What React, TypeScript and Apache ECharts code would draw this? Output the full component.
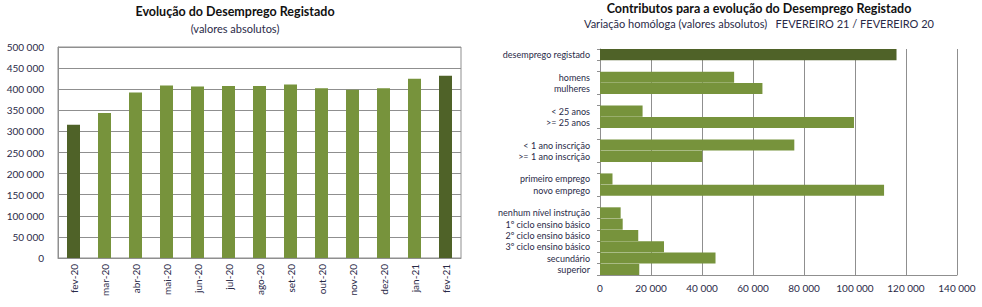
import React, { useEffect, useRef } from "react";
import * as echarts from "echarts";

// Registered unemployment, monthly totals
const months = [
  "fev-20", "mar-20", "abr-20", "mai-20", "jun-20", "jul-20", "ago-20",
  "set-20", "out-20", "nov-20", "dez-20", "jan-21", "fev-21",
];
const unemployed = [
  315562, 343761, 392323, 408934, 406665, 407302, 407779,
  410927, 402254, 398918, 402183, 424770, 431843,
];
const highlightedMonths = ["fev-20", "fev-21"];
const leftTicks = [0, 50000, 100000, 150000, 200000, 250000, 300000, 350000, 400000, 450000, 500000];

// Contributions to the year-on-year change (empty label = spacer row)
const contribLabels = [
  "desemprego registado", "",
  "homens", "mulheres", "",
  "< 25 anos", ">= 25 anos", "",
  "< 1 ano inscrição", ">= 1 ano inscrição", "",
  "primeiro emprego", "novo emprego", "",
  "nenhum nível instrução", "1º ciclo ensino básico", "2º ciclo ensino básico",
  "3º ciclo ensino básico", "secundário", "superior",
];
const contribValues = [
  116281, null,
  52600, 63700, null,
  16700, 99600, null,
  76200, 40100, null,
  4900, 111400, null,
  8100, 8900, 15000, 25100, 45300, 15400,
];
const highlightedContrib = ["desemprego registado"];
const rightTicks = [0, 20000, 40000, 60000, 80000, 100000, 120000, 140000];

const LIGHT = "#77933C";
const DARK = "#4F6228";
const TEXT = "#2a2a48";
const GRID = "#8f8f8f";
const FONT = "Lato, 'Open Sans', sans-serif";

const fmt = (v: number) =>
  String(Math.round(v)).replace(/\B(?=(\d{3})+(?!\d))/g, " ");

export default function App() {
  const ref = useRef<HTMLDivElement>(null);

  useEffect(() => {
    if (!ref.current) return;
    const chart = echarts.init(ref.current, undefined, { renderer: "svg" });

    const categoryKeys = contribLabels.map((l, i) => (l === "" ? " ".repeat(i + 1) : l));

    chart.setOption({
      animation: false,
      backgroundColor: "#ffffff",
      textStyle: { fontFamily: FONT },
      title: [
        {
          text: "Evolução do Desemprego Registado",
          subtext: "(valores absolutos)",
          left: 230,
          top: 0,
          textAlign: "center",
          itemGap: 5,
          textStyle: { fontSize: 12.5, fontWeight: "bold", color: "#111111", fontFamily: FONT },
          subtextStyle: { fontSize: 11, color: TEXT, fontFamily: FONT },
        },
        {
          text: "Contributos para a evolução do Desemprego Registado",
          subtext: "Variação homóloga (valores absolutos)   FEVEREIRO 21 / FEVEREIRO 20",
          left: 754,
          top: -3,
          textAlign: "center",
          itemGap: 3,
          textStyle: { fontSize: 12.5, fontWeight: "bold", color: "#111111", fontFamily: FONT },
          subtextStyle: { fontSize: 11, color: TEXT, fontFamily: FONT },
        },
      ],
      grid: [
        {
          left: 58, top: 47, width: 403, height: 211,
          show: true, borderColor: GRID, borderWidth: 1,
        },
        { left: 600, top: 49, width: 357, height: 226 },
      ],
      xAxis: [
        {
          gridIndex: 0,
          type: "category",
          data: months,
          axisLine: { show: true, lineStyle: { color: GRID } },
          axisTick: { show: false },
          axisLabel: { rotate: 90, margin: 6, fontSize: 10, color: TEXT, fontFamily: FONT },
        },
        {
          gridIndex: 1,
          type: "value",
          min: rightTicks[0],
          max: rightTicks[rightTicks.length - 1],
          interval: rightTicks[1] - rightTicks[0],
          axisLine: { show: true, lineStyle: { color: GRID } },
          axisTick: { show: false },
          splitLine: { show: true, lineStyle: { color: GRID, width: 1 } },
          axisLabel: { fontSize: 10, color: TEXT, margin: 8, fontFamily: FONT, formatter: fmt },
        },
      ],
      yAxis: [
        {
          gridIndex: 0,
          type: "value",
          min: leftTicks[0],
          max: leftTicks[leftTicks.length - 1],
          interval: leftTicks[1] - leftTicks[0],
          axisLine: { show: true, lineStyle: { color: GRID } },
          axisTick: { show: false },
          splitLine: { show: true, lineStyle: { color: GRID, width: 1 } },
          axisLabel: { fontSize: 10, color: TEXT, margin: 14, fontFamily: FONT, formatter: fmt },
        },
        {
          gridIndex: 1,
          type: "category",
          inverse: true,
          data: categoryKeys,
          axisLine: { show: true, lineStyle: { color: GRID } },
          axisTick: {
            show: true,
            length: 3,
            lineStyle: { color: GRID },
            interval: (i: number) => ![3, 6, 9, 12].includes(i),
          },
          axisLabel: {
            fontSize: 9,
            color: TEXT,
            margin: 10,
            fontFamily: FONT,
            interval: 0,
            formatter: (v: string) => v.trim(),
          },
        },
      ],
      series: [
        {
          type: "bar",
          xAxisIndex: 0,
          yAxisIndex: 0,
          barWidth: 13,
          data: unemployed.map((v, i) => ({
            value: v,
            itemStyle: { color: highlightedMonths.includes(months[i]) ? DARK : LIGHT },
          })),
        },
        {
          type: "bar",
          xAxisIndex: 1,
          yAxisIndex: 1,
          barCategoryGap: "2%",
          data: contribValues.map((v, i) => ({
            value: v,
            itemStyle: { color: highlightedContrib.includes(contribLabels[i]) ? DARK : LIGHT },
          })),
        },
      ],
    });

    return () => chart.dispose();
  }, []);

  return (
    <div
      ref={ref}
      style={{ position: "fixed", left: 0, top: 0, width: 982, height: 307, background: "#fff" }}
    />
  );
}
